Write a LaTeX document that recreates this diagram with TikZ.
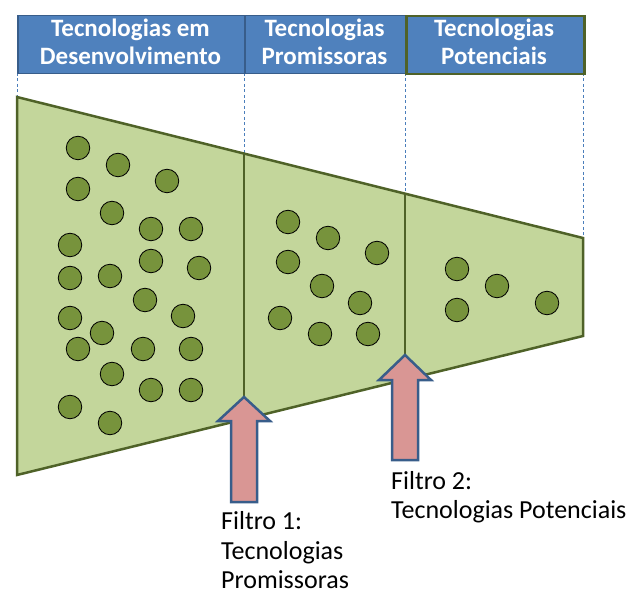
\documentclass[tikz,border=0pt]{standalone}
\usepackage{fontspec}
\setmainfont{Carlito}
\definecolor{hdrfill}{HTML}{4F81BD}
\definecolor{hdrline}{HTML}{385D8A}
\definecolor{trapfill}{HTML}{C3D69B}
\definecolor{trapline}{HTML}{4F6228}
\definecolor{dotfill}{HTML}{77933C}
\definecolor{arrfill}{HTML}{D99694}
\definecolor{guide}{HTML}{4A7EBB}
\tikzset{
  hdrbox/.style={draw=hdrline, fill=hdrfill, line width=1.5pt},
  hdrtext/.style={text=white, font=\fontsize{25}{30}\selectfont\bfseries, anchor=base, inner sep=0pt},
  guideline/.style={draw=guide, line width=0.7pt, dash pattern=on 3pt off 2.5pt},
  trap/.style={draw=trapline, fill=trapfill, line width=2.5pt, line join=miter},
  divider/.style={draw=trapline, line width=2.5pt},
  dot/.style={circle, draw=black, fill=dotfill, line width=0.8pt, minimum size=23.5pt, inner sep=0pt},
  blockarrow/.style={draw=hdrline, fill=arrfill, line width=2.5pt, line join=miter},
  filtertext/.style={font=\fontsize{26}{30}\selectfont, anchor=base west, inner sep=0pt}
}
\begin{document}
\begin{tikzpicture}[x=1pt, y=-1pt]
\useasboundingbox (0,0) rectangle (639,601);
% guide coordinates
\coordinate (g0t) at (17,73);   \coordinate (g0b) at (17,97);
\coordinate (g1t) at (244,73);  \coordinate (g1b) at (244,397);
\coordinate (g2t) at (405,73);  \coordinate (g2b) at (405,355);
\coordinate (g3t) at (583,73);  \coordinate (g3b) at (583,238);
\draw[guideline] (g0t) -- (g0b);
\draw[guideline] (g1t) -- (g1b);
\draw[guideline] (g2t) -- (g2b);
\draw[guideline] (g3t) -- (g3b);
% funnel
\coordinate (tl) at (17,97);
\coordinate (tr) at (583,238);
\coordinate (br) at (583,336);
\coordinate (bl) at (17,475);
\filldraw[trap] (tl) -- (tr) -- (br) -- (bl) -- cycle;
\coordinate (d1t) at (244,153.5);
\coordinate (d2t) at (405,193.7);
\draw[divider] (d1t) -- (g1b);
\draw[divider] (d2t) -- (g2b);
% dots, stage 1
\foreach \x/\y [count=\i] in {78/148,118/165,167/181,78/189,112/213,151/229,191/229,70/245,151/261,199/268,70/278,110/276,145/300,70/318,183/316,102/333,78/349,143/349,191/349,112/374,151/390,191/390,70/407,110/423}
  \node[dot] (a\i) at (\x,\y) {};
% dots, stage 2
\foreach \x/\y [count=\i] in {288/222,328/238,377/253,288/262,322/286,360/303,280/318,320/334,368/334}
  \node[dot] (b\i) at (\x,\y) {};
% dots, stage 3
\foreach \x/\y [count=\i] in {457/269,497/286,457/310,547/303}
  \node[dot] (c\i) at (\x,\y) {};
% filter arrows
\filldraw[blockarrow] (g1b) -- (270,421) -- (257,421) -- (257,502) -- (231,502) -- (231,421) -- (218,421) -- cycle;
\filldraw[blockarrow] (g2b) -- (431,380) -- (418,380) -- (418,460) -- (392,460) -- (392,380) -- (379,380) -- cycle;
% header
\node[hdrbox, minimum width=227pt, minimum height=58pt, anchor=north west, inner sep=0pt] (h1) at (17,15) {};
\node[hdrbox, minimum width=161pt, minimum height=58pt, anchor=north west, inner sep=0pt] (h2) at (244,15) {};
\node[hdrbox, draw=trapline, line width=2.5pt, minimum width=178pt, minimum height=58pt, anchor=north west, inner sep=0pt] (h3) at (405,15) {};
\node[hdrtext] (h1a) at (130.5,37) {Tecnologias em};
\node[hdrtext] (h1b) at (130.5,65) {Desenvolvimento};
\node[hdrtext] (h2a) at (324.5,37) {Tecnologias};
\node[hdrtext] (h2b) at (324.5,65) {Promissoras};
\node[hdrtext] (h3a) at (494,37) {Tecnologias};
\node[hdrtext] (h3b) at (494,65) {Potenciais};
% filter labels
\node[filtertext] (f1a) at (221,529) {Filtro 1:};
\node[filtertext] (f1b) at (221,559) {Tecnologias};
\node[filtertext] (f1c) at (221,588) {Promissoras};
\node[filtertext] (f2a) at (391,489) {Filtro 2:};
\node[filtertext] (f2b) at (391,518) {Tecnologias Potenciais};
\end{tikzpicture}
\end{document}
